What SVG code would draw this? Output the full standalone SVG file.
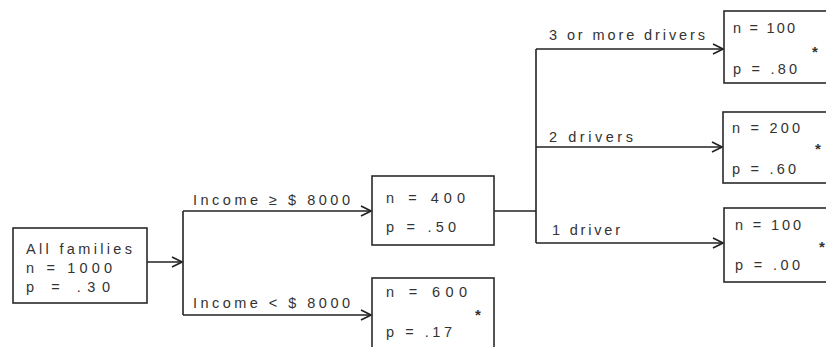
<svg xmlns="http://www.w3.org/2000/svg" width="826" height="347" viewBox="0 0 826 347">
<defs>
<style>
.box{fill:#fff;stroke:#2a2a2a;stroke-width:1.6}
.ln{fill:none;stroke:#222;stroke-width:1.6}
text{font-family:"Liberation Sans",Arial,sans-serif;font-size:14.5px;fill:#333}
.star{font-size:15px;font-weight:bold}
</style>
<marker id="arr" viewBox="0 0 12 12" refX="11" refY="6" markerWidth="12" markerHeight="12" markerUnits="userSpaceOnUse" orient="auto">
<path d="M1,1 L11,6 L1,11" fill="none" stroke="#222" stroke-width="1.6"/>
</marker>
</defs>
<rect width="826" height="347" fill="#fff"/>
<g id="connectors">
<path class="ln" d="M147,262 H182" marker-end="url(#arr)"/>
<path class="ln" d="M183,211 V315"/>
<path class="ln" d="M183,211 H371" marker-end="url(#arr)"/>
<path class="ln" d="M183,315 H371" marker-end="url(#arr)"/>
<path class="ln" d="M494,211 H536"/>
<path class="ln" d="M536,49 V243"/>
<path class="ln" d="M536,49 H723" marker-end="url(#arr)"/>
<path class="ln" d="M536,147 H722" marker-end="url(#arr)"/>
<path class="ln" d="M536,243 H723" marker-end="url(#arr)"/>
<text x="193" y="205" textLength="157" lengthAdjust="spacing">Income ≥ $ 8000</text>
<text x="193" y="308" textLength="157" lengthAdjust="spacing">Income &lt; $ 8000</text>
<text x="549" y="40" textLength="156" lengthAdjust="spacing">3 or more drivers</text>
<text x="549" y="142" textLength="84" lengthAdjust="spacing">2 drivers</text>
<text x="552" y="235" textLength="68" lengthAdjust="spacing">1 driver</text>
</g>
<g id="all-families">
<rect class="box" x="13" y="228" width="134" height="75"/>
<text x="26" y="254" textLength="106" lengthAdjust="spacing">All families</text>
<text x="26" y="273" textLength="86" lengthAdjust="spacing">n = 1000</text>
<text x="26" y="292" textLength="84" lengthAdjust="spacing">p =   .30</text>
</g>
<g id="income-high">
<rect class="box" x="372" y="176" width="122" height="69"/>
<text x="386" y="203" textLength="79" lengthAdjust="spacing">n = 400</text>
<text x="386" y="232" textLength="70" lengthAdjust="spacing">p = .50</text>
</g>
<g id="income-low">
<rect class="box" x="372" y="278" width="122" height="80"/>
<text x="386" y="297" textLength="81" lengthAdjust="spacing">n = 600</text>
<text x="386" y="337" textLength="66" lengthAdjust="spacing">p = .17</text>
<text class="star" x="475" y="320">*</text>
</g>
<g id="three-drivers">
<rect class="box" x="724" y="11" width="110" height="72"/>
<text x="733" y="33" textLength="62" lengthAdjust="spacing">n = 100</text>
<text x="733" y="74" textLength="64" lengthAdjust="spacing">p = .80</text>
<text class="star" x="812" y="57">*</text>
</g>
<g id="two-drivers">
<rect class="box" x="723" y="112" width="110" height="71"/>
<text x="732" y="133" textLength="68" lengthAdjust="spacing">n = 200</text>
<text x="732" y="174" textLength="64" lengthAdjust="spacing">p = .60</text>
<text class="star" x="815" y="154">*</text>
</g>
<g id="one-driver">
<rect class="box" x="724" y="208" width="110" height="74"/>
<text x="735" y="230" textLength="66" lengthAdjust="spacing">n = 100</text>
<text x="735" y="270" textLength="65" lengthAdjust="spacing">p = .00</text>
<text class="star" x="819" y="252">*</text>
</g>
</svg>
